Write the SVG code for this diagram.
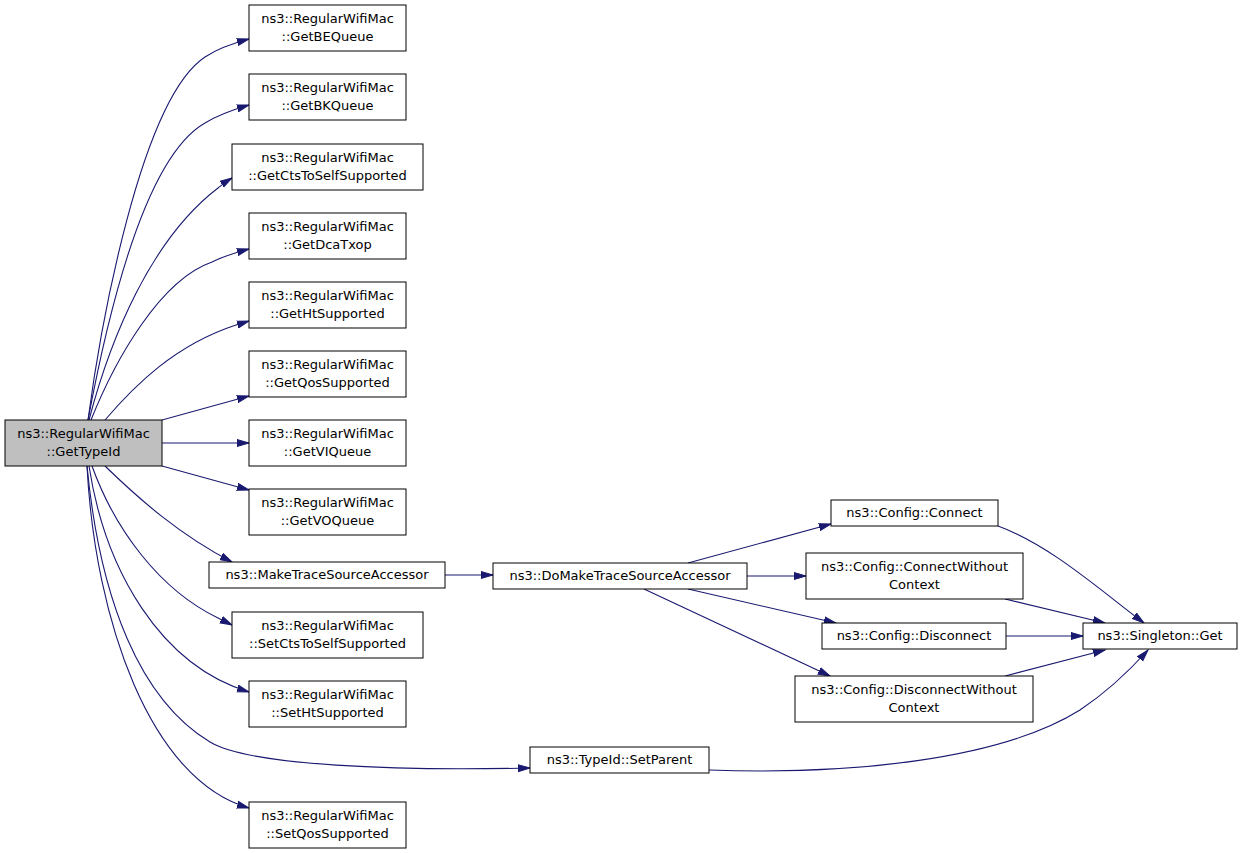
<svg xmlns="http://www.w3.org/2000/svg" width="1243" height="853" viewBox="0 0 1243 853">
<defs>
<marker id="ah" markerWidth="14" markerHeight="10" refX="12" refY="4.5" orient="auto" markerUnits="userSpaceOnUse">
<path d="M0,1 L12,4.5 L0,8 Z" fill="#191970" stroke="#191970" stroke-width="1"/>
</marker>
<style>
.n rect{fill:#ffffff;stroke:#000000;stroke-width:1}
.n.main rect{fill:#bfbfbf}
.n text{font-family:"DejaVu Sans",sans-serif;font-size:13px;fill:#000000;text-anchor:middle}
#edges path{fill:none;stroke:#191970;stroke-width:1.1;marker-end:url(#ah)}
</style>
</defs>
<rect width="1243" height="853" fill="#ffffff"/>
<g id="edges">
<path d="M88,420 C100,330 140,100 205,57 C217,49 230,44 249,39"/>
<path d="M88,420 C103,340 140,160 205,123 C218,115 232,110 249,105"/>
<path d="M89,420 C110,340 150,240 218,188 C222,185 227,181 232,178"/>
<path d="M91,420 C115,360 160,280 212,262 C222,257 234,253 249,249"/>
<path d="M105,420 C135,385 175,345 236,325 L249,321"/>
<path d="M162,420 L249,396"/>
<path d="M162,443 L249,443"/>
<path d="M162,466 L249,490"/>
<path d="M105,466 C140,500 180,535 232,562"/>
<path d="M92,466 C115,530 160,590 218,618 L232,625"/>
<path d="M89,466 C105,570 160,665 249,692"/>
<path d="M87,466 C95,620 150,780 249,808"/>
<path d="M87,466 C100,600 140,700 210,742 C250,766 400,771 530,768"/>
<path d="M445,575 L493,575"/>
<path d="M688,563 L831,524"/>
<path d="M747,576 L806,576"/>
<path d="M688,589 L836,623"/>
<path d="M644,589 L830,676"/>
<path d="M998,526 C1050,545 1100,590 1144,623"/>
<path d="M1005,599 L1105,623"/>
<path d="M1006,636 L1083,636"/>
<path d="M1005,676 L1105,650"/>
<path d="M709,770 C850,775 1000,760 1080,710 C1110,690 1130,670 1148,650"/>
</g>
<g id="main" class="n main"><rect x="5" y="420" width="157" height="46"/><text x="83.5" y="438">ns3::RegularWifiMac</text><text x="83.5" y="456">::GetTypeId</text></g>
<g id="getbequeue" class="n"><rect x="249" y="5" width="157" height="46"/><text x="327.5" y="23">ns3::RegularWifiMac</text><text x="327.5" y="41">::GetBEQueue</text></g>
<g id="getbkqueue" class="n"><rect x="249" y="74" width="157" height="46"/><text x="327.5" y="92">ns3::RegularWifiMac</text><text x="327.5" y="110">::GetBKQueue</text></g>
<g id="getctstoself" class="n"><rect x="232" y="144" width="191" height="46"/><text x="327.5" y="162">ns3::RegularWifiMac</text><text x="327.5" y="180">::GetCtsToSelfSupported</text></g>
<g id="getdcatxop" class="n"><rect x="249" y="213" width="157" height="46"/><text x="327.5" y="231">ns3::RegularWifiMac</text><text x="327.5" y="249">::GetDcaTxop</text></g>
<g id="gethtsupported" class="n"><rect x="249" y="282" width="157" height="46"/><text x="327.5" y="300">ns3::RegularWifiMac</text><text x="327.5" y="318">::GetHtSupported</text></g>
<g id="getqossupported" class="n"><rect x="249" y="351" width="157" height="46"/><text x="327.5" y="369">ns3::RegularWifiMac</text><text x="327.5" y="387">::GetQosSupported</text></g>
<g id="getviqueue" class="n"><rect x="249" y="420" width="157" height="46"/><text x="327.5" y="438">ns3::RegularWifiMac</text><text x="327.5" y="456">::GetVIQueue</text></g>
<g id="getvoqueue" class="n"><rect x="249" y="489" width="157" height="46"/><text x="327.5" y="507">ns3::RegularWifiMac</text><text x="327.5" y="525">::GetVOQueue</text></g>
<g id="maketrace" class="n"><rect x="209" y="562" width="236" height="26"/><text x="327" y="579">ns3::MakeTraceSourceAccessor</text></g>
<g id="setctstoself" class="n"><rect x="232" y="612" width="191" height="46"/><text x="327.5" y="630">ns3::RegularWifiMac</text><text x="327.5" y="648">::SetCtsToSelfSupported</text></g>
<g id="sethtsupported" class="n"><rect x="249" y="681" width="157" height="46"/><text x="327.5" y="699">ns3::RegularWifiMac</text><text x="327.5" y="717">::SetHtSupported</text></g>
<g id="setqossupported" class="n"><rect x="249" y="802" width="157" height="46"/><text x="327.5" y="820">ns3::RegularWifiMac</text><text x="327.5" y="838">::SetQosSupported</text></g>
<g id="setparent" class="n"><rect x="530" y="747" width="179" height="26"/><text x="619.5" y="764">ns3::TypeId::SetParent</text></g>
<g id="domaketrace" class="n"><rect x="493" y="563" width="254" height="26"/><text x="620" y="580">ns3::DoMakeTraceSourceAccessor</text></g>
<g id="connect" class="n"><rect x="831" y="500" width="167" height="26"/><text x="914.5" y="517">ns3::Config::Connect</text></g>
<g id="connectwc" class="n"><rect x="806" y="553" width="217" height="46"/><text x="914.5" y="571">ns3::Config::ConnectWithout</text><text x="914.5" y="589">Context</text></g>
<g id="disconnect" class="n"><rect x="822" y="623" width="184" height="26"/><text x="914" y="640">ns3::Config::Disconnect</text></g>
<g id="disconnectwc" class="n"><rect x="795" y="676" width="238" height="46"/><text x="914" y="694">ns3::Config::DisconnectWithout</text><text x="914" y="712">Context</text></g>
<g id="singleton" class="n"><rect x="1083" y="623" width="154" height="26"/><text x="1160" y="640">ns3::Singleton::Get</text></g>
</svg>
